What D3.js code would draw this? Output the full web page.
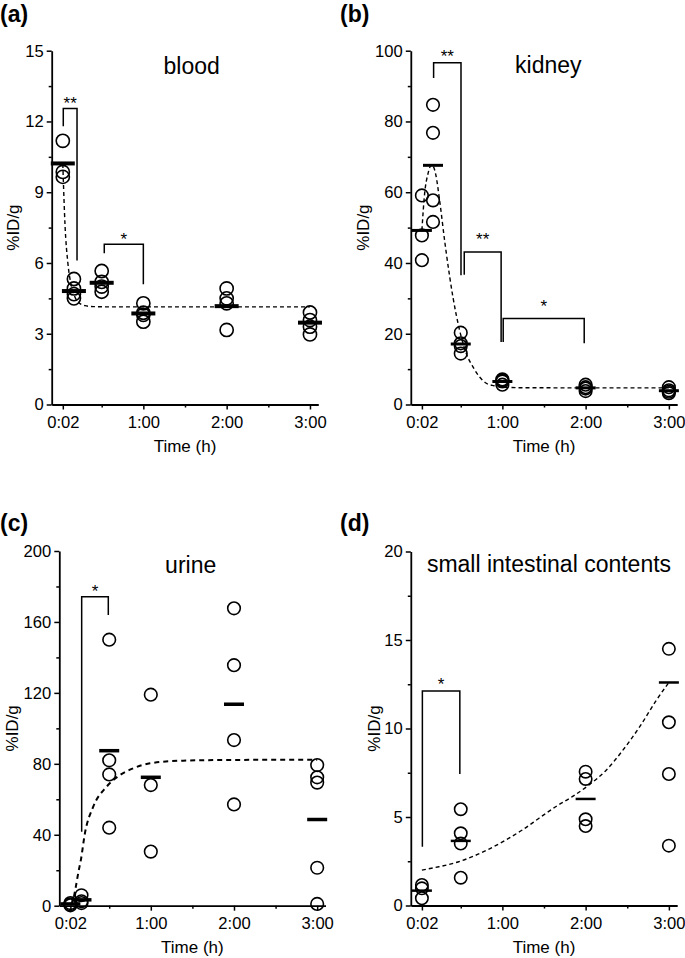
<!DOCTYPE html>
<html><head><meta charset="utf-8">
<script src="https://cdn.jsdelivr.net/npm/d3@7"></script>
<style>
body{margin:0;background:#fff}
svg{display:block}
text{font-family:"Liberation Sans", Arial, sans-serif; fill:#000}
</style>
</head><body><svg id="chart" width="685" height="958"></svg>
<script>
// ---------- data ----------
const M2 = 2/60, M10 = 10/60, M30 = 0.5;
const xTickValues = [M2, 1, 2, 3];
const xTickLabels = ["0:02", "1:00", "2:00", "3:00"];
const xMinorTicks = [0.5, 1.5, 2.5];

// (a) blood
const bloodTimes = [M2, M10, M30, 1, 2, 3];
const bloodValues = [[11.18, 9.86, 9.65], [5.32, 4.92, 4.68, 4.5], [5.66, 5.2, 5.0, 4.78], [4.29, 3.89, 3.8, 3.51], [4.92, 4.5, 4.29, 3.16], [3.9, 3.58, 3.3, 2.97]];
const bloodMeans = [10.22, 4.81, 5.16, 3.86, 4.17, 3.47];
const bloodFitT = [0.0333, 0.06, 0.094, 0.134, 0.18, 0.234, 0.3, 0.4, 0.6, 1, 2, 3];
const bloodFitV = [10.2, 7.6, 6.0, 5.06, 4.55, 4.29, 4.19, 4.15, 4.14, 4.14, 4.14, 4.14];
const bloodYTicks = [0, 3, 6, 9, 12, 15];
const bloodBrackets = [
  {from: 0.039, to: 0.204, top: 12.55, leftEnd: 11.8, rightEnd: 6.1, mark: "**", markAt: 12.95},
  {from: 0.531, to: 1.0, top: 6.79, leftEnd: 6.41, rightEnd: 5.1, mark: "*", markAt: 7.19}
];

// (b) kidney
const kidneyTimes = [M2, M10, M30, 1, 2, 3];
const kidneyValues = [[59.1, 47.8, 40.8], [84.7, 76.8, 57.7, 51.6], [20.3, 17.3, 16.5, 14.4], [7.1, 6.8, 6.5, 5.6], [5.6, 4.9, 4.5, 3.8], [4.9, 4.0, 3.6, 3.2]];
const kidneyMeans = [49.2, 67.6, 17.1, 6.5, 4.7, 3.9];
const kidneyFitT = [0.0333, 0.066, 0.106, 0.15, 0.2, 0.246, 0.306, 0.327, 0.406, 0.486, 0.567, 0.65, 0.726, 0.807, 0.9, 1.0, 1.2, 2, 3];
const kidneyFitV = [49.2, 59.6, 65.2, 67.8, 65.0, 57.7, 46.4, 42.7, 30.4, 21.0, 14.4, 10.5, 7.8, 6.0, 5.3, 4.9, 4.75, 4.7, 4.7];
const kidneyYTicks = [0, 20, 40, 60, 80, 100];
const kidneyBrackets = [
  {from: 0.174, to: 0.503, top: 96.6, leftEnd: 92.3, rightEnd: 36.5, mark: "**", markAt: 99.5},
  {from: 0.542, to: 0.985, top: 43.1, leftEnd: 36.7, rightEnd: 17.7, mark: "**", markAt: 47.8},
  {from: 1.01, to: 1.983, top: 24.3, leftEnd: 17.7, rightEnd: 17.3, mark: "*", markAt: 29.0}
];

// (c) urine
const urineTimes = [M2, M10, M30, 1, 2, 3];
const urineValues = [[1.5, 0.8, 0.2], [5.9, 2.5, 1.5], [150, 82, 74, 44], [119, 68, 30.5], [167.7, 135.6, 93.4, 57.1], [79.3, 72.4, 69.4, 21.4, 1.0]];
const urineMeans = [1.0, 3.3, 87.4, 72.4, 113.6, 48.6];
const urineFitT = [0.0333, 0.07, 0.1, 0.13, 0.16, 0.208, 0.308, 0.469, 0.63, 0.79, 0.99, 1.39, 2, 3];
const urineFitV = [0.5, 4, 11, 19, 26, 40.8, 55.8, 67.1, 73.7, 77.5, 80.3, 81.8, 82.2, 82.3];
const urineYTicks = [0, 40, 80, 120, 160, 200];
const urineBrackets = [
  {from: 0.169, to: 0.489, top: 174.2, leftEnd: 41.7, rightEnd: 163.9, mark: "*", markAt: 179.5}
];

// (d) small intestinal contents
const intestTimes = [M2, M30, 2, 3];
const intestValues = [[1.16, 0.97, 0.41], [5.44, 4.08, 3.5, 1.57], [7.56, 7.15, 4.87, 4.49], [14.5, 10.35, 7.43, 3.38]];
const intestMeans = [0.84, 3.65, 6.02, 12.6];
const intestFitT = [0.0333, 0.237, 0.438, 0.639, 0.84, 1.04, 1.24, 1.44, 1.64, 1.84, 2.04, 2.25, 2.45, 2.65, 2.85, 3.0];
const intestFitV = [2.0, 2.19, 2.42, 2.76, 3.19, 3.70, 4.27, 4.93, 5.58, 6.15, 6.81, 7.66, 8.79, 10.1, 11.6, 12.6];
const intestYTicks = [0, 5, 10, 15, 20];
const intestBrackets = [
  {from: 0.039, to: 0.489, top: 12.12, leftEnd: 3.32, rightEnd: 7.43, mark: "*", markAt: 12.74}
];

// ---------- drawing ----------
const svg = d3.select("#chart");
const FONT = "'Liberation Sans', Arial, sans-serif";

function drawPanel(p) {
  const g = svg.append("g");
  const x = d3.scaleLinear().domain([-0.1, 3.1]).range([p.left, p.right]);
  const y = d3.scaleLinear().domain([0, p.yTicks[p.yTicks.length - 1]]).range([p.bottom, p.top]);
  const step = p.yTicks[1] - p.yTicks[0];
  const yMinor = p.yTicks.slice(0, -1).map(v => v + step / 2);

  // y axis
  const ya = g.append("g").attr("transform", `translate(${p.left},0)`)
    .call(d3.axisLeft(y).tickValues(p.yTicks).tickSize(5).tickSizeOuter(0).tickPadding(3));
  const ym = g.append("g").attr("transform", `translate(${p.left},0)`)
    .call(d3.axisLeft(y).tickValues(yMinor).tickSize(3).tickSizeOuter(0).tickFormat(""));
  ym.select(".domain").remove();

  // x axis
  const xa = g.append("g").attr("transform", `translate(0,${p.bottom})`)
    .call(d3.axisBottom(x).tickValues(xTickValues).tickFormat((d, i) => xTickLabels[i])
      .tickSize(5).tickSizeOuter(0).tickPadding(7));
  const xm = g.append("g").attr("transform", `translate(0,${p.bottom})`)
    .call(d3.axisBottom(x).tickValues(xMinorTicks).tickSize(3).tickSizeOuter(0).tickFormat(""));
  xm.select(".domain").remove();

  [ya, ym, xa, xm].forEach(a => {
    a.attr("font-family", FONT).attr("font-size", 16.6);
    a.selectAll(".domain").attr("stroke", "#000").attr("stroke-width", 1.8);
    a.selectAll(".tick line").attr("stroke", "#000").attr("stroke-width", 1.5);
    a.selectAll(".tick text").attr("fill", "#000");
  });

  // fit curve
  const fit = p.fitT.map((t, i) => [t, p.fitV[i]]);
  g.append("path").datum(fit)
    .attr("fill", "none").attr("stroke", "#000").attr("stroke-width", p.dashW)
    .attr("stroke-dasharray", p.dash)
    .attr("d", d3.line().x(d => x(d[0])).y(d => y(d[1])).curve(d3.curveMonotoneX));

  // points
  const pts = [];
  p.times.forEach((t, i) => p.values[i].forEach(v => pts.push([t, v])));
  g.selectAll("circle.pt").data(pts).join("circle")
    .attr("cx", d => x(d[0])).attr("cy", d => y(d[1])).attr("r", p.r)
    .attr("fill", "none").attr("stroke", "#000").attr("stroke-width", 1.6);

  // means
  g.selectAll("line.mean").data(p.means).join("line")
    .attr("x1", (d, i) => x(p.times[i]) - p.meanW / 2)
    .attr("x2", (d, i) => x(p.times[i]) + p.meanW / 2)
    .attr("y1", d => y(d)).attr("y2", d => y(d))
    .attr("stroke", "#000").attr("stroke-width", p.meanH);

  // brackets
  p.brackets.forEach(b => {
    g.append("path")
      .attr("d", `M${x(b.from)},${y(b.leftEnd)}V${y(b.top)}H${x(b.to)}V${y(b.rightEnd)}`)
      .attr("fill", "none").attr("stroke", "#000").attr("stroke-width", 1.5);
    g.append("text").attr("x", (x(b.from) + x(b.to)) / 2).attr("y", y(b.markAt) + 9.7)
      .attr("text-anchor", "middle").attr("font-size", 17).text(b.mark);
  });

  // title
  g.append("text").attr("x", p.titleX).attr("y", p.titleY)
    .attr("text-anchor", "middle").attr("font-size", 23).text(p.title);
  // panel label
  g.append("text").attr("x", p.labelX).attr("y", p.labelY)
    .attr("font-size", 23).attr("font-weight", "bold").text(p.label);
  // axis titles
  g.append("text").attr("x", (p.left + p.right) / 2).attr("y", p.bottom + 47.5)
    .attr("text-anchor", "middle").attr("font-size", 17).text("Time (h)");
  g.append("text")
    .attr("transform", `translate(${p.yLabelX},${(p.top + p.bottom) / 2}) rotate(-90)`)
    .attr("text-anchor", "middle").attr("dy", "0.35em").attr("font-size", 17).text("%ID/g");
}

drawPanel({left: 51.7, right: 318.3, top: 50.7, bottom: 404.5, yTicks: bloodYTicks,
  times: bloodTimes, values: bloodValues, means: bloodMeans, fitT: bloodFitT, fitV: bloodFitV,
  brackets: bloodBrackets, title: "blood", titleX: 191.7, titleY: 74, label: "(a)", labelX: 0, labelY: 22,
  yLabelX: 13, r: 6.6, meanW: 24, meanH: 4, dash: "4,3", dashW: 1.4});

drawPanel({left: 410.8, right: 677.2, top: 50.7, bottom: 404.5, yTicks: kidneyYTicks,
  times: kidneyTimes, values: kidneyValues, means: kidneyMeans, fitT: kidneyFitT, fitV: kidneyFitV,
  brackets: kidneyBrackets, title: "kidney", titleX: 548.3, titleY: 72.5, label: "(b)", labelX: 340, labelY: 22,
  yLabelX: 363.5, r: 6.3, meanW: 20, meanH: 3, dash: "4,3", dashW: 1.4});

drawPanel({left: 59.3, right: 325.5, top: 551, bottom: 905.7, yTicks: urineYTicks,
  times: urineTimes, values: urineValues, means: urineMeans, fitT: urineFitT, fitV: urineFitV,
  brackets: urineBrackets, title: "urine", titleX: 190.7, titleY: 573, label: "(c)", labelX: 0, labelY: 531,
  yLabelX: 12, r: 6.3, meanW: 20, meanH: 3.5, dash: "5,4", dashW: 2});

drawPanel({left: 410.8, right: 677.2, top: 551.5, bottom: 905.5, yTicks: intestYTicks,
  times: intestTimes, values: intestValues, means: intestMeans, fitT: intestFitT, fitV: intestFitV,
  brackets: intestBrackets, title: "small intestinal contents", titleX: 549, titleY: 572, label: "(d)", labelX: 340, labelY: 531,
  yLabelX: 374, r: 6.2, meanW: 20, meanH: 2.5, dash: "4,3", dashW: 1.4});
</script>
</body></html>
